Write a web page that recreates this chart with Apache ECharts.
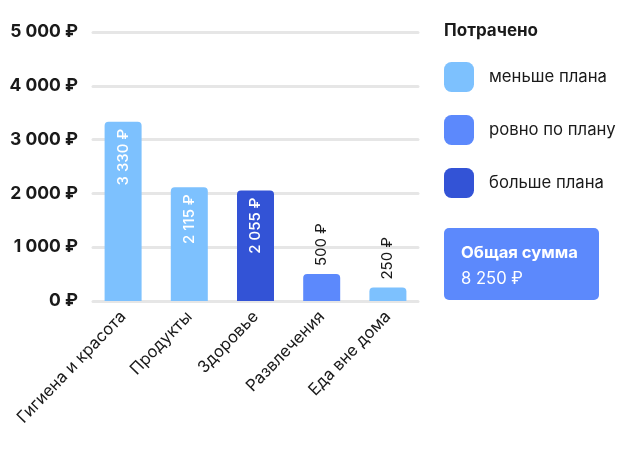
<!DOCTYPE html>
<html><head><meta charset="utf-8">
<script src="https://cdn.jsdelivr.net/npm/echarts@6/dist/echarts.min.js"></script>
<style>html,body{margin:0;padding:0;background:#fff}#c{width:630px;height:459px}</style>
</head><body><div id="c"></div>
<script>
const categories = ['Гигиена и красота', 'Продукты', 'Здоровье', 'Развлечения', 'Еда вне дома'];
const values = [3330, 2115, 2055, 500, 250];
const statusIndex = [0, 0, 2, 1, 0]; // 0 меньше, 1 ровно, 2 больше
const statusNames = ['меньше плана', 'ровно по плану', 'больше плана'];
const yTicks = [0, 1000, 2000, 3000, 4000, 5000];
const legendTitle = 'Потрачено';
const totalTitle = 'Общая сумма';

const colors = ['#7DC1FE', '#5C89FC', '#3353D6'];
const FONT = 'Inter';
const fmt = v => String(v).replace(/\B(?=(\d{3})+(?!\d))/g, ' ') + ' ₽';
const total = values.reduce((a, b) => a + b, 0);

const series = statusNames.map((name, s) => ({
  name,
  type: 'bar',
  stack: 'all',
  xAxisIndex: 1, yAxisIndex: 1,
  barWidth: 37,
  itemStyle: { color: colors[s], borderRadius: [4, 4, 0, 0] },
  data: values.map((v, i) => {
    if (statusIndex[i] !== s) return '-';
    const inside = v > 1000;
    return {
      value: v,
      label: {
        show: true,
        formatter: fmt(v),
        rotate: 90,
        position: inside ? 'insideTop' : 'top',
        align: inside ? 'right' : 'left',
        verticalAlign: 'middle',
        distance: inside ? 7 : 8,
        color: inside ? '#ffffff' : '#1a1a1a',
        fontFamily: FONT, fontSize: 15, fontWeight: inside ? 500 : 400
      }
    };
  })
}));

const chart = echarts.init(document.getElementById('c'), null, { renderer: 'canvas' });
chart.setOption({
  animation: false,
  title: {
    text: legendTitle, left: 444, top: 22, padding: 0,
    textStyle: { fontFamily: FONT, fontSize: 17, fontWeight: 'bold', color: '#1a1a1a' }
  },
  legend: {
    orient: 'vertical', left: 444, top: 62, padding: 0,
    itemWidth: 30, itemHeight: 30, itemGap: 23,
    icon: 'roundRect',
    textStyle: { fontFamily: FONT, fontSize: 16.7, color: '#1a1a1a', padding: [0, 0, 0, 10] },
    selectedMode: false,
    data: statusNames
  },
  grid: [
    { left: 93, right: 212, top: 32, bottom: 158 },
    { left: 90, right: 209, top: 32, bottom: 158 }
  ],
  xAxis: [
    { type: 'category', gridIndex: 0, data: categories, show: false },
    {
      type: 'category', gridIndex: 1, data: categories,
      axisLine: { show: false }, axisTick: { show: false },
      axisLabel: { rotate: 46, margin: 13, fontFamily: FONT, fontSize: 16.5, color: '#1a1a1a', interval: 0 }
    }
  ],
  yAxis: [
    {
      type: 'value', gridIndex: 0, min: yTicks[0], max: yTicks[yTicks.length - 1], interval: 1000,
      axisLine: { show: false }, axisTick: { show: false },
      axisLabel: { margin: 15, formatter: v => fmt(v), fontFamily: FONT, fontSize: 17.5, fontWeight: 'bold', color: '#1a1a1a' },
      splitLine: { lineStyle: { color: '#e6e6e6', width: 3, cap: 'round' } }
    },
    {
      type: 'value', gridIndex: 1, min: yTicks[0], max: yTicks[yTicks.length - 1], interval: 1000,
      show: false, splitLine: { show: false }
    }
  ],
  series,
  graphic: [{
    type: 'group', left: 444, top: 228,
    children: [
      { type: 'rect', shape: { x: 0, y: 0, width: 155, height: 72, r: 5 }, style: { fill: '#5C89FC' } },
      { type: 'text', x: 17, y: 25, style: { text: totalTitle, fill: '#fff', font: 'bold 16.6px Inter', textVerticalAlign: 'middle' } },
      { type: 'text', x: 17, y: 51, style: { text: fmt(total), fill: '#fff', font: '16.6px Inter', textVerticalAlign: 'middle' } }
    ]
  }]
});
</script></body></html>
